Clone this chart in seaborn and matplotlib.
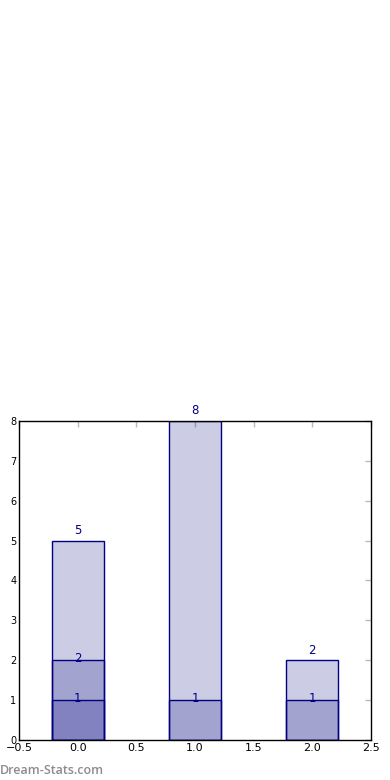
import numpy as np
import pandas as pd
import matplotlib.pyplot as plt
from matplotlib.ticker import MultipleLocator
import seaborn as sns

# values
positions = [0, 1, 2]
totals = [5, 8, 2]
second = [2, 1, 1]
third = [1, 0, 0]
layers = [totals, second, third]
label_offsets = [0.25, 0.05, 0.05]

sns.set_style("white")
plt.rcParams['font.family'] = ['DejaVu Sans']

fig = plt.figure(figsize=(3.9, 7.8), dpi=100)
ax = fig.add_axes([0.049, 0.0513, 0.902, 0.409])

face = (0, 0, 0.5, 0.2)
for vals, off in zip(layers, label_offsets):
    df = pd.DataFrame({'x': positions, 'y': vals})
    df = df[df['y'] > 0]
    n_before = len(ax.patches)
    sns.barplot(data=df, x='x', y='y', native_scale=True, width=0.44,
                color='navy', edgecolor='navy', linewidth=1, ax=ax, errorbar=None)
    for p in ax.patches[n_before:]:
        p.set_facecolor(face)
        p.set_edgecolor('navy')
    for xv, yv in zip(df['x'], df['y']):
        ax.text(xv, yv + off, str(yv), ha='center', va='center',
                color='navy', fontsize=8.5)

ax.set_xlim(-0.5, 2.5)
ax.set_ylim(0, 8)
ax.xaxis.set_major_locator(MultipleLocator(0.5))
ax.yaxis.set_major_locator(MultipleLocator(1))
ax.set_xlabel('')
ax.set_ylabel('')
ax.tick_params(axis='both', direction='in', length=4, width=1, color='#bbbbbb',
               labelcolor='black', top=True, right=True, pad=2)
ax.tick_params(axis='x', labelsize=8)
ax.tick_params(axis='y', labelsize=7)
for s in ax.spines.values():
    s.set_color('black')
    s.set_linewidth(1)

fig.text(0.0, 0.004, 'Dream-Stats.com', color='#8c8c8c', fontsize=9,
         fontweight='semibold', family=['Open Sans', 'DejaVu Sans'],
         ha='left', va='bottom')

fig.savefig('out.png', dpi=100)
